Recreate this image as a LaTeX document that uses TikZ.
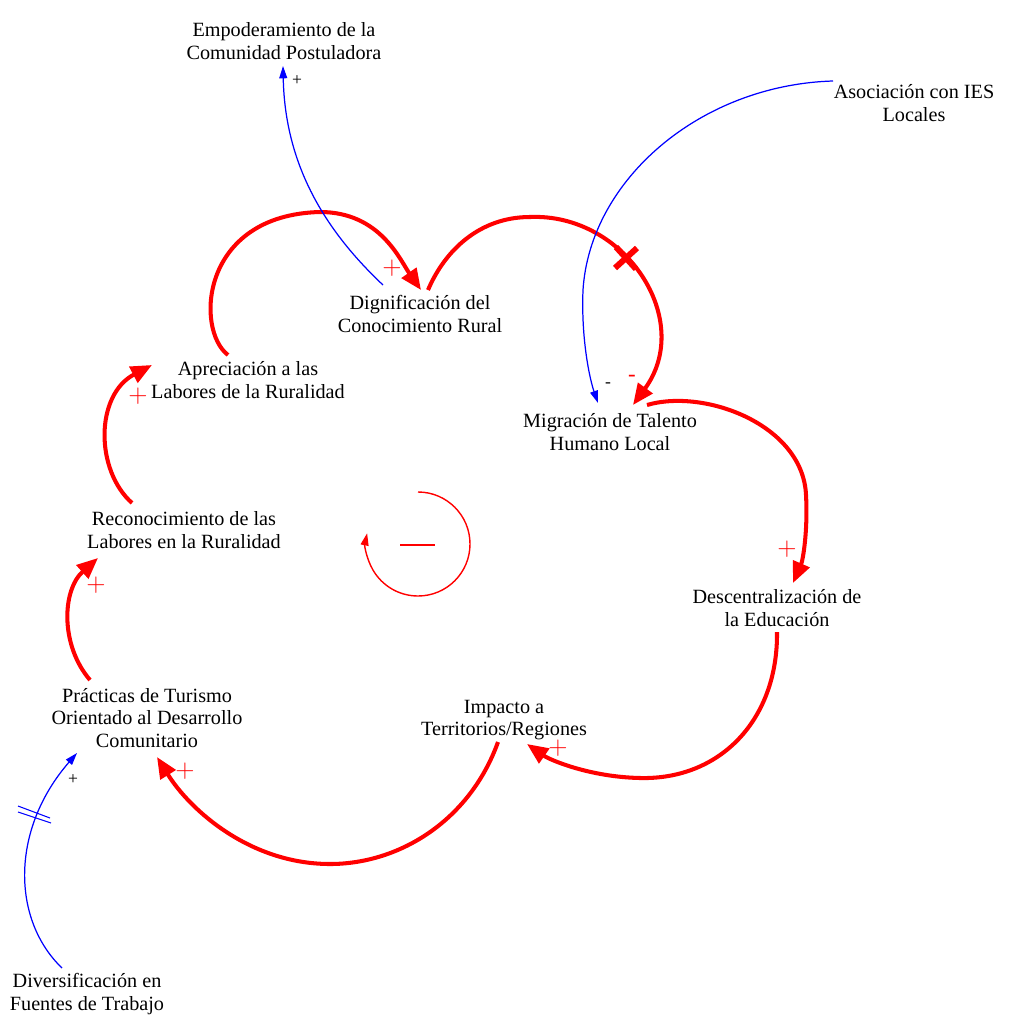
\documentclass[tikz,border=0pt]{standalone}
\usepackage{fontspec}
\setmainfont{Liberation Serif}
\usetikzlibrary{arrows.meta,calc}

\begin{document}
\begin{tikzpicture}[x=0.02cm, y=-0.02cm,
  var/.style={align=center, font=\fontsize{11.5}{13}\selectfont, inner sep=1pt},
  redlink/.style={draw=red, line width=2.3pt, -{Triangle[length=12pt,width=10pt]}},
  bluelink/.style={draw=blue, line width=0.7pt, -{Triangle[length=7pt,width=4.5pt]}},
  redsign/.style={text=red, font=\fontsize{15}{15}\selectfont, inner sep=0pt},
  sign/.style={font=\fontsize{10}{10}\selectfont, inner sep=0pt}]
\useasboundingbox (0,0) rectangle (1017,1014);

\node[var] (emp) at (284, 41) {Empoderamiento de la\\Comunidad Postuladora};
\node[var] (ies) at (914, 103) {Asociación con IES\\Locales};
\node[var] (dig) at (420, 314) {Dignificación del\\Conocimiento Rural};
\node[var] (apr) at (248, 380) {Apreciación a las\\Labores de la Ruralidad};
\node[var] (mig) at (610, 432) {Migración de Talento\\Humano Local};
\node[var] (rec) at (184, 530) {Reconocimiento de las\\Labores en la Ruralidad};
\node[var] (des) at (777, 608) {Descentralización de\\la Educación};
\node[var] (pra) at (147, 718) {Prácticas de Turismo\\Orientado al Desarrollo\\Comunitario};
\node[var] (imp) at (504, 720) {Impacto a\\Territorios/Regiones};
\node[var] (div) at (87, 994) {Diversificación en\\Fuentes de Trabajo};

\draw[redlink] ($(apr)+(-20,-25)$) .. controls (195,330) and (200,215) .. (320,212)
  .. controls (380,212) and (400,260) .. ($(dig)+(1,-24)$);
\draw[redlink] ($(dig)+(8,-24)$) .. controls (445,250) and (480,217) .. (530,217)
  .. controls (625,213) and (695,320) .. ($(mig)+(23,-27)$);
\draw[redlink] ($(mig)+(37,-27)$) .. controls (705,388) and (803,425) .. (806,495)
  .. controls (808,530) and (803,560) .. ($(des)+(16,-25)$);
\draw[redlink] ($(des)+(0,24)$) .. controls (778,720) and (720,780) .. (640,778)
  .. controls (590,777) and (550,760) .. ($(imp)+(23,24)$);
\draw[redlink] ($(imp)+(-6,22)$) .. controls (470,820) and (400,864) .. (330,864)
  .. controls (250,864) and (190,810) .. ($(pra)+(10,39)$);
\draw[redlink] ($(pra)+(-57,-38)$) .. controls (60,645) and (62,590) .. ($(rec)+(-86,28)$);
\draw[redlink] ($(rec)+(-52,-27)$) .. controls (95,470) and (95,395) .. ($(apr)+(-96,-15)$);

\draw[red, line width=3.4pt] (615,268) -- (637,248);
\draw[red, line width=3.4pt] (616,247) -- (636,269);

\draw[bluelink] ($(dig)+(-37,-29)$) .. controls (330,235) and (285,170) .. ($(emp)+(-1,25)$);
\draw[bluelink] ($(ies)+(-81,-22)$) .. controls (700,85) and (590,180) .. (583,290)
  .. controls (581,340) and (590,380) .. ($(mig)+(-12,-29)$);
\draw[bluelink] ($(div)+(-25,-26)$) .. controls (12,920) and (10,830) .. ($(pra)+(-70,35)$);

\draw[blue, line width=0.6pt] (18,806) -- (50,818);
\draw[blue, line width=0.6pt] (18,812) -- (51,823);

\node[redsign] (p1) at (392, 268) {$+$};
\node[redsign] (p2) at (787, 549) {$+$};
\node[redsign] (p3) at (558, 748) {$+$};
\node[redsign] (p4) at (185, 771) {$+$};
\node[redsign] (p5) at (96, 585) {$+$};
\node[redsign] (p6) at (138, 396) {$+$};
\node[redsign, font=\fontsize{13}{13}\selectfont] (m1) at (632, 378) {-};
\node[sign] (p7) at (297, 81) {+};
\node[sign] (p8) at (73, 780) {+};
\node[sign] (m2) at (608, 385) {-};

\draw[red, line width=0.8pt, -{Triangle[length=7pt,width=4.5pt]}] (418,492) arc[start angle=-90, end angle=192, radius=52];
\draw[red, line width=0.8pt] (400,545) -- (435,545);

\end{tikzpicture}
\end{document}
